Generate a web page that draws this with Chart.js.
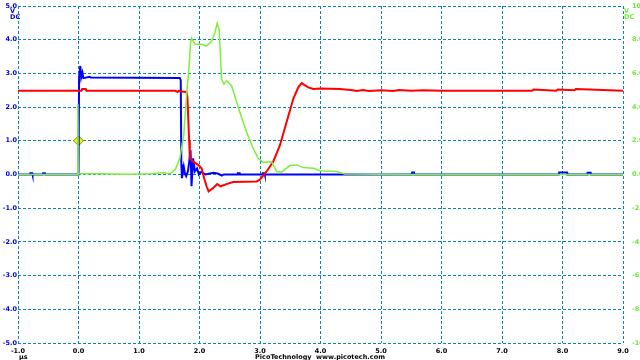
<!DOCTYPE html>
<html>
<head>
<meta charset="utf-8">
<script src="https://cdn.jsdelivr.net/npm/chart.js@4"></script>
<style>
    html, body { margin: 0; padding: 0; background: #fff; }
    #wrap { width: 640px; height: 360px; position: relative; }
</style>
</head>
<body>
<div id="wrap"><canvas id="scopeChart"></canvas></div>
<script>
// Time axis ticks (us) and channel scales
const xTicks = [-1, 0, 1, 2, 3, 4, 5, 6, 7, 8, 9];
const leftTicks = [-5, -4, -3, -2, -1, 0, 1, 2, 3, 4, 5];
const rightTicks = [-10, -8, -6, -4, -2, 0, 2, 4, 6, 8, 10];

// Channel A (blue, V, left axis)
const blueX = [-1, -0.8, -0.795, -0.765, -0.76, -0.59, -0.585, -0.555, -0.55, 0, 0.01, 0.03, 0.045, 0.065, 0.08, 0.186, 0.2,
    1.675, 1.69, 1.70, 1.71, 1.74, 1.76, 1.78, 1.81, 1.83, 1.852, 1.868, 1.895, 1.923, 1.96, 1.99, 2.03, 2.1,
    2.23, 2.3, 2.37, 2.4, 2.63, 2.635, 2.665, 2.67, 3.04, 3.045, 3.075, 3.08, 5.51, 5.515, 5.545, 5.55,
    7.94, 7.945, 8.075, 8.08, 8.41, 8.415, 8.465, 8.47, 9];
const blueY = [0, 0, 0.04, 0.04, 0, 0, 0.04, 0.04, 0, 0, 2.9, 3.22, 2.88, 3.02, 2.86, 2.9, 2.88,
    2.86, 2.8, 0.3, -0.11, 0.23, 0.02, -0.05, 0.1, 0.38, 0.72, -0.35, 0.48, 0.09, 0.18, 0, 0.08, 0,
    0.05, 0.03, -0.03, 0, 0, 0.04, 0.04, 0, 0, 0.04, 0.04, 0, 0, 0.06, 0.06, 0,
    0, 0.06, 0.06, 0, 0, 0.05, 0.05, 0, 0];

// Channel B (red, right axis)
const redX = [-1, 0.05, 0.06, 0.12, 0.13, 1.6, 1.64, 1.66, 1.7, 1.786, 1.80, 1.829, 1.84, 1.895, 1.978,
    2.034, 2.077, 2.117, 2.15, 2.226, 2.292, 2.348, 2.447, 2.557, 2.944, 2.998, 3.109, 3.218, 3.33, 3.44,
    3.549, 3.632, 3.688, 3.797, 3.88, 3.99, 4.32, 4.5, 4.6, 4.7, 4.8, 5.0, 5.2, 5.3, 5.5, 5.7, 6.0, 7.0,
    7.5, 7.52, 7.9, 7.92, 8.2, 8.22, 9];
const redY = [4.97, 4.97, 5.07, 5.07, 4.97, 4.97, 4.9, 4.97, 4.92, 4.9, 4.6, 2.0, 0.96, 0.76, 0.57,
    0.37, -0.22, -0.7, -1.0, -0.8, -0.57, -0.7, -0.57, -0.45, -0.41, -0.31, 0.18, 0.76, 1.74, 3.11,
    4.48, 5.17, 5.42, 5.17, 5.07, 5.11, 5.07, 5.02, 4.95, 5.02, 4.95, 5.0, 4.95, 5.02, 4.97, 5.0, 4.97, 4.97,
    4.97, 5.05, 4.97, 5.05, 5.0, 5.07, 4.97];

// Channel C (green, right axis)
const greenX = [-1, -0.015, -0.01, -0.005, 0.3, 0.8, 1.2, 1.4, 1.51, 1.6, 1.675, 1.74, 1.786, 1.829, 1.852,
    1.868, 1.923, 2.055, 2.117, 2.199, 2.254, 2.292, 2.325, 2.365, 2.403, 2.447, 2.53, 2.667, 2.778, 2.888,
    2.97, 3.053, 3.192, 3.275, 3.357, 3.495, 3.605, 3.715, 3.88, 3.99, 4.267, 4.4, 5.5, 7.0, 9];
const greenY = [0, 0, 4.2, 0.05, 0.05, 0.02, 0.05, 0.1, 0.04, 0.3, 0.96, 2.35, 4.7, 6.46, 7.81,
    8.1, 7.75, 7.71, 7.62, 7.91, 8.4, 8.98, 8.59, 5.65, 5.36, 5.56, 5.27, 3.7, 2.52, 1.54,
    0.96, 0.72, 0.76, 0.18, 0.14, 0.53, 0.57, 0.41, 0.37, 0.22, 0.18, 0.03, 0.0, 0.0, 0.0];

// Trigger marker
const trigX = [0];
const trigY = [1.0];

const toPoints = (xs, ys) => xs.map((x, i) => ({ x: x, y: ys[i] }));

const GRID = '#0a86a8';
const tickFont = { family: 'DejaVu Sans', size: 6.5, weight: 'bold' };

const extraText = {
    id: 'extraText',
    afterDraw(chart) {
        const c = chart.ctx;
        c.save();
        c.font = 'bold 6.5px "DejaVu Sans"';
        c.textBaseline = 'middle';
        c.textAlign = 'left';
        // left channel units
        c.fillStyle = '#0000ee';
        c.fillText('V', 10, 11);
        c.fillText('DC', 10, 17);
        // right channel units
        c.fillStyle = '#66ee33';
        c.fillText('V', 624, 11);
        c.fillText('DC', 624, 17);
        // time unit and footer
        c.fillStyle = '#000';
        c.fillText('\u03bcs', 19, 357);
        c.textAlign = 'center';
        c.fillText('PicoTechnology  www.picotech.com', 320, 357);
        c.restore();
    }
};

new Chart(document.getElementById('scopeChart'), {
    type: 'line',
    data: {
        datasets: [
            {
                label: 'C',
                data: toPoints(greenX, greenY),
                borderColor: '#7cf03a',
                borderWidth: 1.5,
                yAxisID: 'y1'
            },
            {
                label: 'B',
                data: toPoints(redX, redY),
                borderColor: '#ff0000',
                borderWidth: 2,
                yAxisID: 'y1'
            },
            {
                label: 'A',
                data: toPoints(blueX, blueY),
                borderColor: '#0000ff',
                borderWidth: 2,
                yAxisID: 'y'
            },
            {
                label: 'Trigger',
                type: 'scatter',
                data: toPoints(trigX, trigY),
                pointStyle: 'rectRot',
                pointRadius: 5,
                backgroundColor: '#ffee00',
                borderColor: '#8a8a00',
                borderWidth: 1,
                yAxisID: 'y'
            }
        ]
    },
    options: {
        responsive: true,
        maintainAspectRatio: false,
        animation: false,
        layout: { padding: { top: 3, left: 0, right: 0, bottom: 0 } },
        elements: { point: { radius: 0 }, line: { tension: 0 } },
        plugins: { legend: { display: false }, tooltip: { enabled: false } },
        scales: {
            x: {
                type: 'linear',
                min: -1,
                max: 9,
                afterBuildTicks: (axis) => { axis.ticks = xTicks.map(v => ({ value: v })); },
                afterFit: (axis) => { axis.height = 17; },
                grid: { color: GRID, lineWidth: 1, drawTicks: false },
                border: { display: false, dash: [3, 2] },
                ticks: { color: '#000', font: tickFont, padding: 4, maxRotation: 0,
                    callback: (v) => v.toFixed(1) }
            },
            y: {
                position: 'left',
                min: -5,
                max: 5,
                afterBuildTicks: (axis) => { axis.ticks = leftTicks.map(v => ({ value: v })); },
                afterFit: (axis) => { axis.width = 18; },
                grid: { color: GRID, lineWidth: 1, drawTicks: false },
                border: { display: false, dash: [3, 2] },
                ticks: { color: '#0000ee', font: tickFont, padding: 1,
                    callback: (v) => v.toFixed(1) }
            },
            y1: {
                position: 'right',
                min: -10,
                max: 10,
                afterBuildTicks: (axis) => { axis.ticks = rightTicks.map(v => ({ value: v })); },
                afterFit: (axis) => { axis.width = 17; },
                grid: { display: false },
                border: { display: false },
                ticks: { color: '#66ee33', font: tickFont, padding: 1,
                    callback: (v) => v.toFixed(1) }
            }
        }
    },
    plugins: [extraText]
});
</script>
</body>
</html>
